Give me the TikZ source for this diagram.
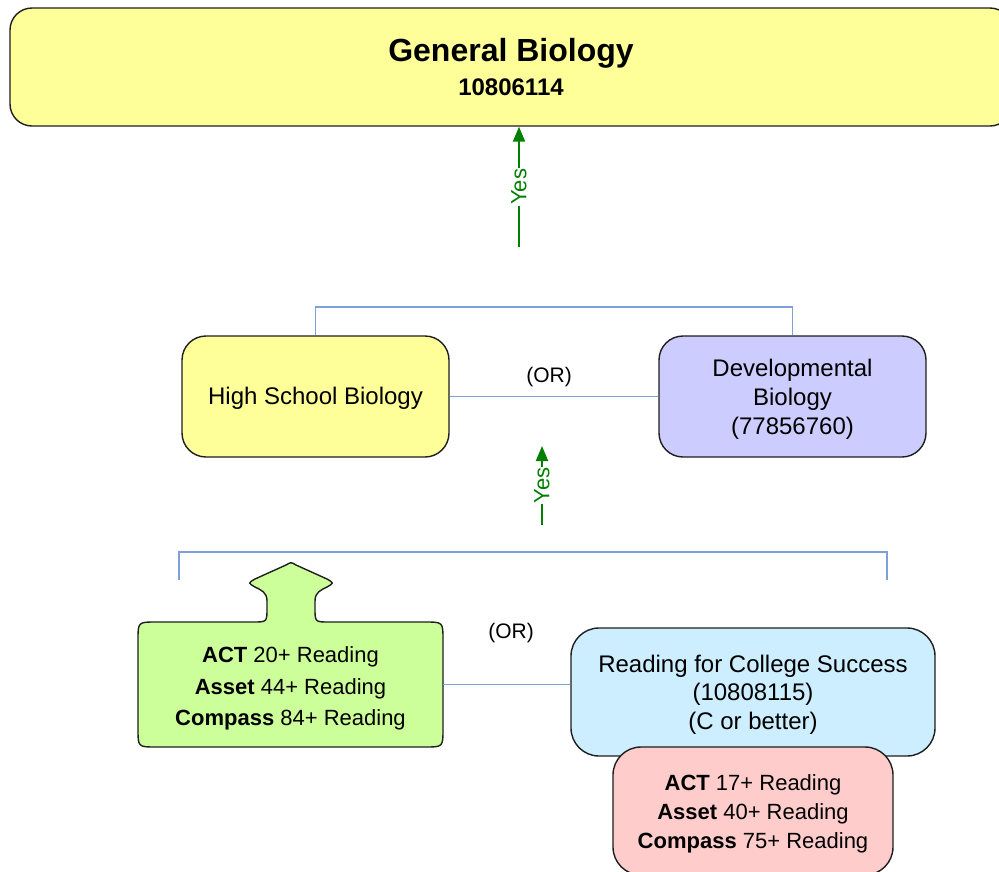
\documentclass[tikz,border=0pt]{standalone}
\usepackage{fontspec}
\setmainfont{Liberation Sans}
\usetikzlibrary{arrows.meta}
\definecolor{byellow}{HTML}{FFFF99}
\definecolor{bpurple}{HTML}{CCCCFF}
\definecolor{bgreen}{HTML}{CCFF99}
\definecolor{bblue}{HTML}{CCEEFF}
\definecolor{bpink}{HTML}{FFCCCC}
\definecolor{lineblue}{HTML}{7F9FD8}
\definecolor{yesgreen}{HTML}{008000}
\definecolor{bordc}{HTML}{1E1E1E}
\newcommand{\toppad}[1]{\rule{0pt}{#1}}
\begin{document}
\begin{tikzpicture}[x=1pt,y=-1pt,
  box/.style={draw=bordc, line width=1.4pt, rounded corners=24pt, align=center, text=black, inner sep=0pt},
  conn/.style={draw=lineblue, line width=1.3pt},
  yes/.style={draw=yesgreen, line width=2pt, -{Triangle[length=15pt,width=12pt]}},
  yeslbl/.style={fill=white, text=yesgreen, font=\fontsize{22}{26}\selectfont, sloped, inner sep=1pt, midway},
  bodytxt/.style={font=\fontsize{24}{29}\selectfont},
  scoretxt/.style={font=\fontsize{22}{29}\selectfont}]
\useasboundingbox (0,0) rectangle (999,871);
\fill[white] (0,0) rectangle (999,871);

% top box
\node[box, fill=byellow, minimum width=1002pt, minimum height=118pt, rounded corners=22pt, font=\bfseries] (top) at (511,67)
  {\fontsize{32}{36}\selectfont General Biology\\[9pt]\fontsize{24}{28}\selectfont 10806114};

% first yes arrow
\coordinate (y1) at (519,247);
\draw[yes] (y1) -- (y1 |- top.south) node[yeslbl]{Yes};

% second level
\node[box, fill=byellow, minimum width=267pt, minimum height=121pt, bodytxt] (hs) at (315.5,396.5) {\toppad{21.5pt}High School Biology};
\node[box, fill=bpurple, minimum width=267pt, minimum height=121pt, bodytxt] (dev) at (792.5,396.5) {\toppad{22.5pt}Developmental\\Biology\\(77856760)};
\coordinate (tb) at (550,307);
\draw[conn] (hs.north) -- (hs.north |- tb) -| (dev.north);
\draw[conn] (hs.east) -- (dev.west);
\node[font=\fontsize{21}{25}\selectfont, inner sep=0pt] (or1) at (549,377) {(OR)};

% second yes arrow
\coordinate (y2) at (542,525);
\coordinate (y2t) at (542,446);
\draw[yes] (y2) -- (y2t) node[yeslbl]{Yes};

% bottom bracket
\coordinate (bl) at (179,580);
\coordinate (br) at (887,580);
\coordinate (bt) at (533,552);
\draw[conn] (bl) |- (bt) -| (br);

% green box with tab
\path[draw=bordc, line width=1.4pt, fill=bgreen]
  (156,622) -- (253,622)
  .. controls (267,622) .. (267,608)
  -- (267,601)
  .. controls (267,592) and (261,590) .. (255,587)
  .. controls (248,583) .. (255,579)
  -- (286,565)
  .. controls (291,562) .. (296,565)
  -- (327,579)
  .. controls (334,583) .. (327,587)
  .. controls (321,590) and (315,592) .. (315,601)
  -- (315,608)
  .. controls (315,622) .. (329,622)
  -- (425,622)
  .. controls (443,622) .. (443,640)
  -- (443,729)
  .. controls (443,747) .. (425,747)
  -- (156,747)
  .. controls (138,747) .. (138,729)
  -- (138,640)
  .. controls (138,622) .. (156,622) -- cycle;
\node[minimum width=305pt, minimum height=125pt, inner sep=0pt, align=center, font=\fontsize{22}{31.5}\selectfont] (green) at (290.5,684.5)
  {\toppad{24pt}\textbf{ACT} 20+ Reading\\\textbf{Asset} 44+ Reading\\\textbf{Compass} 84+ Reading};

% blue box
\node[box, fill=bblue, minimum width=364pt, minimum height=128pt, rounded corners=28pt, font=\fontsize{24}{28.5}\selectfont] (blue) at (753,692)
  {\toppad{22.5pt}Reading for College Success\\(10808115)\\(C or better)};
\draw[conn] (green.east) -- (green.east -| blue.west);
\node[font=\fontsize{21}{25}\selectfont, inner sep=0pt] (or2) at (511,633) {(OR)};

% pink box
\node[box, fill=bpink, minimum width=280pt, minimum height=128pt, rounded corners=28pt, scoretxt] (pink) at (753,811)
  {\toppad{22pt}\textbf{ACT} 17+ Reading\\\textbf{Asset} 40+ Reading\\\textbf{Compass} 75+ Reading};
\end{tikzpicture}
\end{document}
